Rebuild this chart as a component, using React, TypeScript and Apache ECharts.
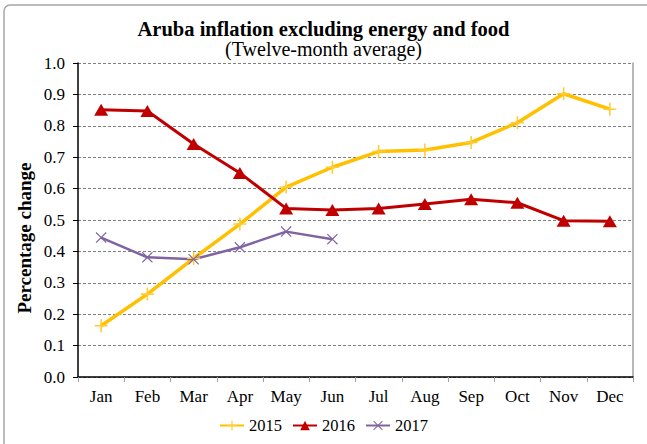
import React, { useEffect, useRef } from "react";
import * as echarts from "echarts";

const months = ["Jan", "Feb", "Mar", "Apr", "May", "Jun", "Jul", "Aug", "Sep", "Oct", "Nov", "Dec"];
const s2015 = [0.163, 0.264, 0.378, 0.487, 0.605, 0.668, 0.718, 0.723, 0.747, 0.81, 0.902, 0.853];
const s2016 = [0.851, 0.847, 0.742, 0.65, 0.537, 0.532, 0.537, 0.551, 0.566, 0.555, 0.498, 0.496];
const s2017 = [0.444, 0.381, 0.375, 0.413, 0.463, 0.439];
const seriesNames = ["2015", "2016", "2017"];

const FONT = "Liberation Serif, Times New Roman, serif";

const PLUS =
  "path://M-0.12,-1 L0.12,-1 L0.12,-0.12 L1,-0.12 L1,0.12 L0.12,0.12 L0.12,1 L-0.12,1 L-0.12,0.12 L-1,0.12 L-1,-0.12 L-0.12,-0.12 Z";
const CROSS =
  "path://M-1,-0.85 L-0.85,-1 L0,-0.15 L0.85,-1 L1,-0.85 L0.15,0 L1,0.85 L0.85,1 L0,0.15 L-0.85,1 L-1,0.85 L-0.15,0 Z";

export default function App() {
  const ref = useRef<HTMLDivElement>(null);
  useEffect(() => {
    if (!ref.current) return;
    const chart = echarts.init(ref.current, null, { renderer: "svg" });
    chart.setOption({
      animation: false,
      backgroundColor: "#ffffff",
      title: [
        {
          text: "Aruba inflation excluding energy and food",
          left: "center",
          top: 13,
          textStyle: { fontFamily: FONT, fontWeight: "bold", fontSize: 20.5, color: "#000" },
        },
        {
          text: "(Twelve-month average)",
          left: "center",
          top: 34,
          textStyle: { fontFamily: FONT, fontWeight: "normal", fontSize: 20, color: "#000" },
        },
      ],
      graphic: [
        {
          type: "rect",
          shape: { x: 4, y: 5, width: 700, height: 500, r: 6 },
          style: { fill: "none", stroke: "#a6a6a6", lineWidth: 1.5 },
          silent: true,
        },
        {
          type: "text",
          x: 24,
          y: 238,
          rotation: Math.PI / 2,
          style: {
            text: "Percentage change",
            fontFamily: FONT,
            fontWeight: "bold",
            fontSize: 19,
            fill: "#000",
            align: "center",
            verticalAlign: "middle",
          },
        },
      ],
      legend: {
        bottom: 5,
        left: "center",
        itemWidth: 24,
        itemHeight: 12,
        itemGap: 10,
        textStyle: { fontFamily: FONT, fontSize: 16.5, color: "#000" },
        data: seriesNames,
      },
      grid: { left: 78, right: 14, top: 63, bottom: 67, containLabel: false },
      xAxis: {
        type: "category",
        data: months,
        boundaryGap: true,
        axisLine: { lineStyle: { color: "#000", width: 1.5 } },
        axisTick: { show: true, length: 5, lineStyle: { color: "#a0a0a0" } },
        axisLabel: { fontFamily: FONT, fontSize: 17, color: "#000", margin: 11 },
        splitLine: { show: false },
      },
      yAxis: [
        {
          type: "value",
          min: 0,
          max: 1,
          interval: 0.1,
          axisLine: { show: true, lineStyle: { color: "#000", width: 1.5 } },
          axisTick: { show: true, length: 5, lineStyle: { color: "#000" } },
          axisLabel: {
            fontFamily: FONT,
            fontSize: 17,
            color: "#000",
            margin: 13,
            formatter: (v: number) => v.toFixed(1),
          },
          splitLine: { show: true, lineStyle: { color: "#808080", type: [3, 2], width: 1 } },
        },
        {
          type: "value",
          min: 0,
          max: 1,
          interval: 0.1,
          position: "right",
          axisLine: { show: true, lineStyle: { color: "#a0a0a0", width: 1.5 } },
          axisTick: { show: false },
          axisLabel: { show: false },
          splitLine: { show: false },
        },
      ],
      series: [
        {
          name: "2015",
          type: "line",
          data: s2015,
          symbol: PLUS,
          symbolSize: 13,
          lineStyle: { color: "#FFC000", width: 3.5 },
          itemStyle: { color: "#FFCC33" },
        },
        {
          name: "2016",
          type: "line",
          data: s2016,
          symbol: "triangle",
          symbolSize: [14, 12],
          lineStyle: { color: "#C00000", width: 3 },
          itemStyle: { color: "#C00000" },
        },
        {
          name: "2017",
          type: "line",
          data: s2017,
          symbol: CROSS,
          symbolSize: 11,
          lineStyle: { color: "#8064A2", width: 2.5 },
          itemStyle: { color: "#8064A2" },
        },
      ],
    });
    return () => chart.dispose();
  }, []);
  return <div ref={ref} style={{ width: 647, height: 444, position: "absolute", left: 0, top: 0 }} />;
}
